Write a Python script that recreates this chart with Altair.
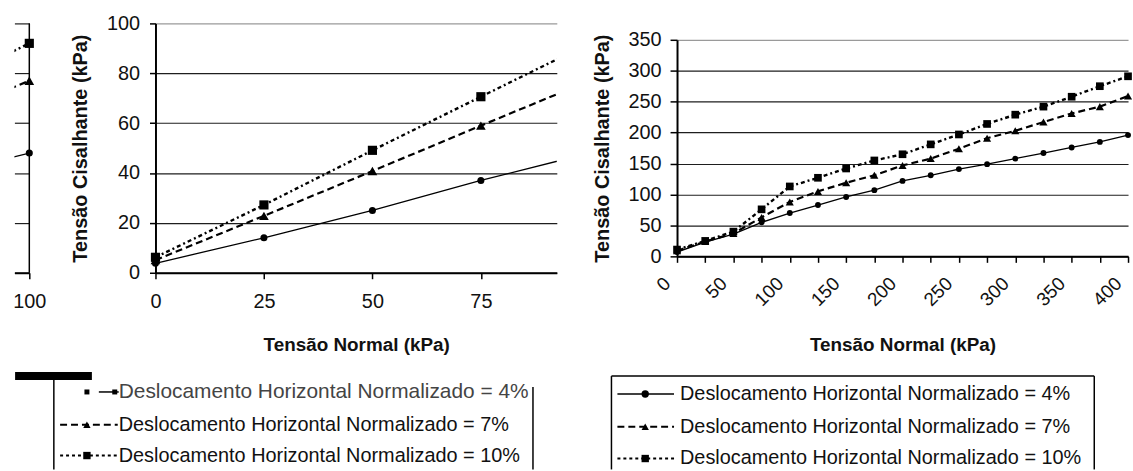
import altair as alt
import pandas as pd

FONT = "Liberation Sans"

# ---- series ---------------------------------------------------------------
series_keys = ["4%", "7%", "10%"]
series_labels = [
    "Deslocamento Horizontal Normalizado = 4%",
    "Deslocamento Horizontal Normalizado = 7%",
    "Deslocamento Horizontal Normalizado = 10%",
]

# Ensaio A: tensão normal até 100 kPa
a_normal = [0, 25, 50, 75, 100]
a_shear_4 = [3.8, 14, 25, 37, 48]
a_shear_7 = [5.1, 22.8, 40.8, 59, 77]
a_shear_10 = [6.2, 27.2, 49.1, 70.6, 92]
a_y_ticks = [0, 20, 40, 60, 80, 100]

# Ensaio B: tensão normal até 400 kPa
b_normal = [0, 25, 50, 75, 100, 125, 150, 175, 200, 225, 250, 275, 300, 325, 350, 375, 400]
b_shear_4 = [7, 23, 36, 55, 70, 83, 96, 107, 122, 131, 141, 149, 158, 167, 176, 185, 196]
b_shear_7 = [9, 24, 37, 63, 88, 105, 119, 131, 147, 158, 174, 191, 203, 217, 231, 242, 259]
b_shear_10 = [11, 25, 40, 76, 113, 127, 142, 155, 165, 181, 197, 214, 229, 242, 258, 275, 291]
b_y_ticks = [0, 50, 100, 150, 200, 250, 300, 350]

# ---- layout (pixels) --------------------------------------------------------
PANEL_H = 251
STRIP_W = 15          # right end of the previous sheet
GAP_1 = 127
LEFT_W = 404
GAP_2 = 121
RIGHT_W = 454
RIGHT_H = 218

LEFT_MAX = 92.5                    # visible part of the 0-100 axis
STRIP_MIN = 100 - STRIP_W / (LEFT_W / LEFT_MAX)

X0 = 12
LEFT_OX = X0 + STRIP_W + GAP_1
RIGHT_OX = LEFT_OX + LEFT_W + GAP_2
TOP = 22
RIGHT_OY = TOP + (PANEL_H - RIGHT_H) / 2

STYLE = {
    "4%": {"width": 1.3, "shape": "circle", "size": 50},
    "7%": {"width": 2.2, "shape": "triangle-up", "size": 95, "dash": [7, 4]},
    "10%": {"width": 2.4, "shape": "square", "size": 85, "dash": [4, 3, 2, 3]},
}
LEGEND_DASH = {"7%": [7, 4], "10%": [3, 3]}

GRID_DARK = "#1e1e1e"
GRID_TOP = "#9a9a9a"


def grid_color(top_value):
    return {"condition": {"test": f"datum.value === {top_value}", "value": GRID_TOP},
            "value": GRID_DARK}


def series_layers(xs, ys_list, x_enc, y_enc, keep, scale=1.0):
    layers = []
    for key, ys in zip(series_keys, ys_list):
        st = STYLE[key]
        df = pd.DataFrame({"x": xs, "y": ys})
        base = alt.Chart(df).encode(x=x_enc, y=y_enc)
        line_args = {"color": "black", "strokeWidth": st["width"], "clip": True}
        if "dash" in st:
            line_args["strokeDash"] = st["dash"]
        layers.append(base.mark_line(**line_args))
        layers.append(
            base.transform_filter(keep).mark_point(
                shape=st["shape"], size=st["size"] * scale, filled=True,
                color="black", opacity=1
            )
        )
    return layers


def one_row():
    return pd.DataFrame({"k": [0]})


def hrule(x1, x2, y, width=1.5, dash=None):
    args = {"color": "black", "strokeWidth": width}
    if dash:
        args["strokeDash"] = dash
    return alt.Chart(one_row()).mark_rule(**args).encode(
        x=alt.value(x1), x2=alt.value(x2), y=alt.value(y))


def vrule(x, y1, y2, width=1.5):
    return alt.Chart(one_row()).mark_rule(color="black", strokeWidth=width).encode(
        x=alt.value(x), y=alt.value(y1), y2=alt.value(y2))


def marker(x, y, shape, size):
    return alt.Chart(one_row()).mark_point(
        shape=shape, size=size, filled=True, color="black", opacity=1
    ).encode(x=alt.value(x), y=alt.value(y))


def label(text, x, y, size=20, color="#111"):
    df = pd.DataFrame({"t": [text]})
    return alt.Chart(df).mark_text(
        align="left", baseline="middle", font=FONT, fontSize=size, color=color
    ).encode(x=alt.value(x), y=alt.value(y), text="t:N")


def legend_rows(ox, oy, rows_y, sym_x0, sym_x1, mark_x, text_x, skip_first=False):
    out = []
    for i, (key, text) in enumerate(zip(series_keys, series_labels)):
        if skip_first and i == 0:
            continue
        y = rows_y[i] - oy
        out.append(hrule(sym_x0 - ox, sym_x1 - ox, y, width=1.5 if key == "4%" else 2,
                         dash=LEGEND_DASH.get(key)))
        out.append(marker(mark_x - ox, y, STYLE[key]["shape"], 55))
        out.append(label(text, text_x - ox, y))
    return out


# ---- strip: right end of the previous sheet -----------------------------------
strip_x = alt.X("x:Q", scale=alt.Scale(domain=[STRIP_MIN, 100], nice=False, zero=False),
                axis=alt.Axis(values=[100], grid=False, domainColor="black", domainWidth=2,
                              tickColor="black", tickWidth=1.5, tickSize=6,
                              labelFontSize=20, labelPadding=13, labelFlush=False,
                              title=None))
strip_y = alt.Y("y:Q", scale=alt.Scale(domain=[0, 100], nice=False),
                axis=alt.Axis(values=a_y_ticks, grid=True, gridColor=GRID_DARK, gridWidth=1.2,
                              labels=False, ticks=False, domain=False, title=None))
strip_border = alt.Chart(pd.DataFrame({"x": [100]})).mark_rule(
    color="black", strokeWidth=1.5).encode(x=strip_x)
strip = alt.layer(
    *series_layers(a_normal, [a_shear_4, a_shear_7, a_shear_10], strip_x, strip_y,
                   f"datum.x >= {STRIP_MIN}"),
    strip_border,
).properties(width=STRIP_W, height=PANEL_H)

# ---- spacers --------------------------------------------------------------
def spacer(w):
    return alt.Chart(one_row()).mark_point(opacity=0).properties(width=w, height=PANEL_H)


# ---- left chart -----------------------------------------------------------
left_x = alt.X("x:Q", scale=alt.Scale(domain=[0, LEFT_MAX], nice=False),
               axis=alt.Axis(values=[v for v in a_normal if v <= LEFT_MAX], grid=False,
                             domainColor="black", domainWidth=2, tickColor="black",
                             tickWidth=1.5, tickSize=6, labelFontSize=20, labelPadding=13,
                             labelFlush=False, labelOverlap=False,
                             title="Tensão Normal (kPa)", titleFontSize=19,
                             titleFontWeight="bold", titleY=72, titleBaseline="middle"))
left_y = alt.Y("y:Q", scale=alt.Scale(domain=[0, 100], nice=False),
               axis=alt.Axis(values=a_y_ticks, grid=True, gridColor=grid_color(100),
                             gridWidth=1.2, domainColor="black", domainWidth=2,
                             tickColor="black", tickWidth=1.5, tickSize=6,
                             labelFontSize=20, labelPadding=10,
                             title="Tensão Cisalhante (kPa)", titleFontSize=20,
                             titleFontWeight="bold", titleX=-75, titleY=PANEL_H / 2,
                             titleAngle=270, titleBaseline="middle", titleAlign="center"))

left_legend = [
    hrule(12.7 - LEFT_OX, 90 - LEFT_OX, 377 - TOP, width=8),
    vrule(51.7 - LEFT_OX, 377 - TOP, 471 - TOP),
    vrule(534 - LEFT_OX, 388 - TOP, 471 - TOP),
    # first row, smudged in print
    marker(85 - LEFT_OX, 393 - TOP, "square", 25),
    hrule(97 - LEFT_OX, 117 - LEFT_OX, 393 - TOP, width=1.5),
    marker(113 - LEFT_OX, 393 - TOP, "square", 25),
    label(series_labels[0], 117 - LEFT_OX, 393 - TOP, size=21, color="#444"),
] + legend_rows(LEFT_OX, TOP, [393, 426, 457], 58, 116, 85, 117, skip_first=True)

left = alt.layer(
    *series_layers(a_normal, [a_shear_4, a_shear_7, a_shear_10], left_x, left_y,
                   f"datum.x <= {LEFT_MAX}"),
    *left_legend,
).properties(width=LEFT_W, height=PANEL_H)

# ---- right chart ----------------------------------------------------------
right_x = alt.X("x:Q", scale=alt.Scale(domain=[0, 400], nice=False),
                axis=alt.Axis(values=b_normal, grid=False, domainColor="black", domainWidth=2,
                              tickColor="black", tickWidth=1.5, tickSize=6,
                              labelFontSize=19, labelAngle=-45, labelAlign="right",
                              labelBaseline="middle", labelPadding=18, labelOffset=-10,
                              labelFlush=False, labelOverlap=False,
                              labelExpr="datum.value % 50 === 0 ? datum.label : ''",
                              title="Tensão Normal (kPa)", titleFontSize=19,
                              titleFontWeight="bold", titleY=345 - (RIGHT_OY + RIGHT_H),
                              titleBaseline="middle"))
right_y = alt.Y("y:Q", scale=alt.Scale(domain=[0, 350], nice=False),
                axis=alt.Axis(values=b_y_ticks, grid=True, gridColor=grid_color(350),
                              gridWidth=1.2, domainColor="black", domainWidth=2,
                              tickColor="black", tickWidth=1.5, tickSize=7,
                              labelFontSize=20, labelPadding=9,
                              title="Tensão Cisalhante (kPa)", titleFontSize=20,
                              titleFontWeight="bold", titleX=-75, titleY=RIGHT_H / 2,
                              titleAngle=270, titleBaseline="middle", titleAlign="center"))

right_legend = [
    hrule(613 - RIGHT_OX, 1099 - RIGHT_OX, 377 - RIGHT_OY),
    vrule(613 - RIGHT_OX, 377 - RIGHT_OY, 471 - RIGHT_OY),
    vrule(1099 - RIGHT_OX, 377 - RIGHT_OY, 471 - RIGHT_OY),
] + legend_rows(RIGHT_OX, RIGHT_OY, [395, 428, 460], 619, 676, 647, 682)

right = alt.layer(
    *series_layers(b_normal, [b_shear_4, b_shear_7, b_shear_10], right_x, right_y,
                   "datum.x <= 400", scale=0.7),
    *right_legend,
).properties(width=RIGHT_W, height=RIGHT_H)

chart = alt.hconcat(
    strip, spacer(GAP_1), left, spacer(GAP_2), right,
    spacing=0, bounds="flush", center=True,
).properties(
    padding={"left": 10.5, "top": 12, "right": 0, "bottom": 0},
    background="white",
).configure_view(
    strokeWidth=0
).configure_axis(
    labelFont=FONT, titleFont=FONT, labelColor="#111", titleColor="#111"
)

chart.save("out.html", embed_options={"renderer": "svg", "actions": False})
